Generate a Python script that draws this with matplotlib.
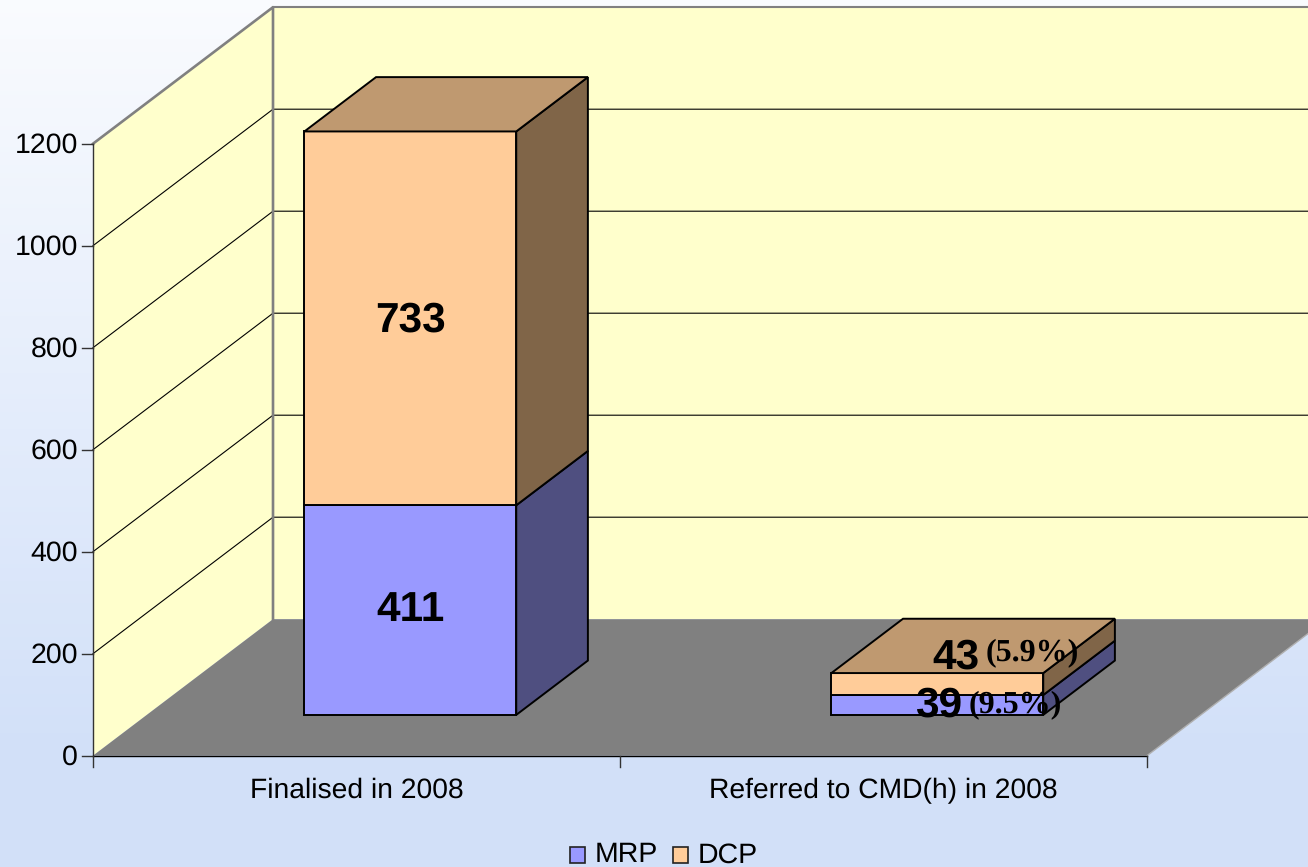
import numpy as np
import matplotlib
matplotlib.use('Agg')
import matplotlib.pyplot as plt
from matplotlib.patches import Polygon, Rectangle

plt.rcParams['font.family'] = ['Liberation Sans', 'DejaVu Sans']
plt.rcParams['text.hinting'] = 'no_hinting'

# data
categories = ['Finalised in 2008', 'Referred to CMD(h) in 2008']
mrp = [411, 39]
dcp = [733, 43]
series_names = ['MRP', 'DCP']
mrp_notes = ['', '(9.5%)']
dcp_notes = ['', '(5.9%)']
y_ticks = [0, 200, 400, 600, 800, 1000, 1200]

# 3D look, all in pixels of the 1308x867 picture
W, H = 1308, 867
X0, Y0 = 93, 755.7      # front corner, value 0
PX_X = 527              # pixels per category
PX_Y = 0.51             # pixels per value
DEPTH_X, DEPTH_Y = 180, 136.5
BAR_W = 0.402
BAR_D0, BAR_D1 = 0.299, 0.697

fig = plt.figure(figsize=(W/100, H/100), dpi=100)

# background gradient
bg = fig.add_axes([0, 0, 1, 1], zorder=0)
c_top = np.array([1.0, 1.0, 1.0])
c_bot = np.array([0.827, 0.882, 0.976])
yy, xx = np.mgrid[0:1:200j, 0:1:200j]
t = 0.12 + 0.88*np.clip(yy/0.85, 0, 1)
bg.imshow(c_top + (c_bot-c_top)*t[..., None], aspect='auto', extent=[0, 1, 1, 0])
bg.axis('off')

ax = fig.add_axes([0, 0, 1, 1], zorder=1)
ax.set_xlim(-X0/PX_X, (W-X0)/PX_X)
ax.set_ylim((Y0-H)/PX_Y, Y0/PX_Y)
ax.axis('off')
ax.patch.set_alpha(0)

dx = DEPTH_X/PX_X
dy = DEPTH_Y/PX_Y
ncat = len(categories)
top = max(y_ticks)


def pt(x, y, d):
    return (x + d*dx, y + d*dy)


def face(points, color, z, lw=1.4, ec='black'):
    ax.add_patch(Polygon(points, closed=True, fc=color, ec=ec, lw=lw, zorder=z, joinstyle='miter'))


WALL = '#FFFFCC'
GREY = '#808080'
# back wall runs past the right edge
face([pt(0, 0, 1), pt(ncat, 0, 1), pt(ncat, top, 1), pt(0, top, 1)], WALL, 1, ec='none', lw=0)
face([pt(0, 0, 0), pt(0, 0, 1), pt(0, top, 1), pt(0, top, 0)], WALL, 1, ec='none', lw=0)
face([pt(0, 0, 0), pt(ncat, 0, 0), pt(ncat, 0, 1), pt(0, 0, 1)], GREY, 2, ec='none', lw=0)

for v in y_ticks[1:-1]:
    ax.plot(*zip(pt(0, v, 0), pt(0, v, 1), pt(ncat, v, 1)), color='black', lw=0.8, zorder=1.5)
ax.plot(*zip(pt(0, top, 1), pt(ncat, top, 1)), color=GREY, lw=1.5, zorder=1.6)
ax.plot(*zip(pt(0, top, 0), pt(0, top, 1), pt(0, 0, 1)), color=GREY, lw=1.9, zorder=1.6)
ax.plot(*zip(pt(0, 0, 0), pt(0, top, 0)), color='#333333', lw=1.0, zorder=3)
ax.plot(*zip(pt(ncat, 0, 0), pt(ncat, 0, 1)), color='#b0b0b0', lw=1.0, zorder=3)
ax.plot(*zip(pt(0, 0, 0), pt(ncat, 0, 0)), color='black', lw=1.0, zorder=3)

# ticks and tick labels
tick_w = 11/PX_X
tick_h = 11/PX_Y
for v in y_ticks:
    ax.plot([-tick_w, 0], [v, v], color='#333333', lw=1.0, zorder=3)
    ax.text(-tick_w-4/PX_X, v-1.5/PX_Y, str(v), ha='right', va='center', fontsize=20.5, color='black')
for i in range(ncat+1):
    ax.plot([i, i], [0, -tick_h], color='#333333', lw=1.0, zorder=3)
for i, name in enumerate(categories):
    ax.text(i+0.5, -35/PX_Y, name, ha='center', va='center', fontsize=20.3, color='black')

# stacked boxes
BLUE = ('#9999FF', '#4F4F80')
ORANGE = ('#FFCC99', '#BF9970', '#806548')
for i in range(ncat):
    x0 = i + 0.5 - BAR_W/2
    x1 = i + 0.5 + BAR_W/2
    z = 5
    # lower segment
    a, b = 0, mrp[i]
    face([pt(x1, a, BAR_D0), pt(x1, a, BAR_D1), pt(x1, b, BAR_D1), pt(x1, b, BAR_D0)], BLUE[1], z)
    face([pt(x0, a, BAR_D0), pt(x1, a, BAR_D0), pt(x1, b, BAR_D0), pt(x0, b, BAR_D0)], BLUE[0], z)
    # upper segment
    a, b = mrp[i], mrp[i]+dcp[i]
    face([pt(x1, a, BAR_D0), pt(x1, a, BAR_D1), pt(x1, b, BAR_D1), pt(x1, b, BAR_D0)], ORANGE[2], z)
    face([pt(x0, a, BAR_D0), pt(x1, a, BAR_D0), pt(x1, b, BAR_D0), pt(x0, b, BAR_D0)], ORANGE[0], z)
    face([pt(x0, b, BAR_D0), pt(x1, b, BAR_D0), pt(x1, b, BAR_D1), pt(x0, b, BAR_D1)], ORANGE[1], z)

# value labels on the first bar
cx, cy = pt(0.5, mrp[0]/2, BAR_D0)
ax.text(cx, cy, str(mrp[0]), ha='center', va='center', fontsize=30.5, fontweight='bold', zorder=8)
cx, cy = pt(0.5, mrp[0]+dcp[0]/2, BAR_D0)
ax.text(cx, cy-2/PX_Y, str(dcp[0]), ha='center', va='center', fontsize=30.5, fontweight='bold', zorder=8)

# value labels on the second bar, with the share next to them
serif = ['Liberation Serif', 'DejaVu Serif']
ax.annotate(str(mrp[1]), xy=pt(1.5, mrp[1], BAR_D0), xytext=(1, -11), textcoords='offset pixels',
            ha='center', va='center', fontsize=30.5, fontweight='bold', zorder=8)
ax.annotate(mrp_notes[1], xy=pt(1.5, mrp[1], BAR_D0), xytext=(78, -10), textcoords='offset pixels',
            ha='center', va='center', fontsize=23, fontweight='bold', family=serif, zorder=8, color='black')
ax.annotate(str(dcp[1]), xy=pt(1.5, mrp[1]+dcp[1], BAR_D0), xytext=(19, 15), textcoords='offset pixels',
            ha='center', va='center', fontsize=30.5, fontweight='bold', zorder=8)
ax.annotate(dcp_notes[1], xy=pt(1.5, mrp[1]+dcp[1], BAR_D0), xytext=(95, 20), textcoords='offset pixels',
            ha='center', va='center', fontsize=23, fontweight='bold', family=serif, zorder=8, color='black')

# legend
to_ax = ax.transData.inverted()
for px, col, name, tx in [(570, BLUE[0], series_names[0], 595), (673, ORANGE[0], series_names[1], 698)]:
    p0 = to_ax.transform((px, H-863))
    p1 = to_ax.transform((px+15, H-847))
    ax.add_patch(Rectangle(p0, p1[0]-p0[0], p1[1]-p0[1], fc=col, ec='#222222', lw=1.2, zorder=6))
    ax.text(*to_ax.transform((tx, H-855)), name, ha='left', va='center', fontsize=20.5, color='black')

fig.savefig('out.png', dpi=100)
